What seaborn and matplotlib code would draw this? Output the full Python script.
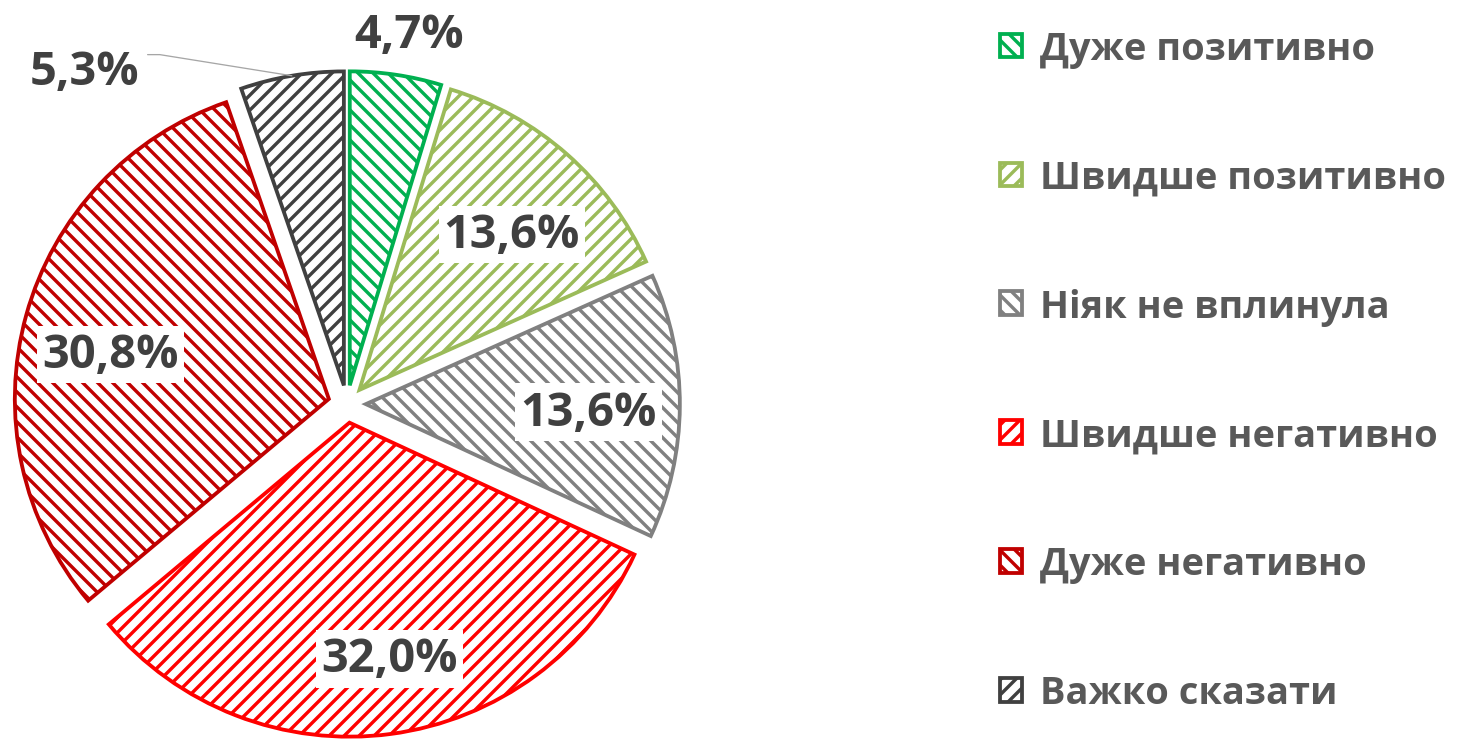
import matplotlib.pyplot as plt
import numpy as np
import seaborn as sns

categories = ["Дуже позитивно", "Швидше позитивно", "Ніяк не вплинула",
              "Швидше негативно", "Дуже негативно", "Важко сказати"]
shares = [4.7, 13.6, 13.6, 32.0, 30.8, 5.3]
labels = ["4,7%", "13,6%", "13,6%", "32,0%", "30,8%", "5,3%"]

colors = ["#00B050", "#9BBB59", "#808080", "#FF0000", "#C00000", "#404040"]
hatches = ["\\\\", "//", "\\\\", "//", "\\\\", "//"]
# radial position of each label (fraction of radius) and angle shift in degrees
label_r = [1.134, 0.694, 0.71, 0.763, 0.71, 1.296]
label_shift = [-1.2, -3.0, -1.7, 2.1, 3.9, 30.0]

sns.set_theme(style="white")
plt.rcParams["font.family"] = ["Open Sans", "DejaVu Sans"]

DPI = 90
PX = 72 / DPI  # points per pixel
plt.rcParams["hatch.linewidth"] = 3.4 * PX

fig = plt.figure(figsize=(1460 / DPI, 740 / DPI), dpi=DPI)
ax = fig.add_axes([0, 0, 1, 1])

R = 314.0  # pie radius in pixels
cx, cy = 347.0, 335.0  # pie centre, pixels from bottom-left

wedges, _ = ax.pie(shares, colors=["white"] * len(shares), startangle=90,
                   counterclock=False, explode=[0.06] * len(shares),
                   wedgeprops=dict(linewidth=3.8 * PX))
for w, c, h in zip(wedges, colors, hatches):
    w.set_edgecolor(c)
    w.set_hatch(h)

ax.set_xlim(-cx / R, (1460 - cx) / R)
ax.set_ylim(-cy / R, (740 - cy) / R)
ax.set_aspect("equal")
ax.axis("off")

for i, w in enumerate(wedges):
    mid = np.deg2rad((w.theta1 + w.theta2) / 2 + label_shift[i])
    x0, y0 = w.center
    lx = x0 + label_r[i] * np.cos(mid)
    ly = y0 + label_r[i] * np.sin(mid)
    inside = label_r[i] < 1
    ax.text(lx, ly, labels[i], ha="center", va="center", fontsize=47 * PX,
            fontweight="bold", color="#404040",
            bbox=dict(facecolor="white", edgecolor="none", pad=5 * PX) if inside else None)
    if i == len(wedges) - 1:
        amid = np.deg2rad((w.theta1 + w.theta2) / 2)
        ax.plot([x0 + np.cos(amid), lx + 0.239, lx + 0.2],
                [y0 + np.sin(amid), ly + 0.054, ly + 0.054],
                color="#A6A6A6", linewidth=1.3 * PX)

leg = ax.legend(wedges, categories, loc="upper left",
                bbox_to_anchor=(1000 / 1460, 1 - 31 / 740),
                bbox_transform=fig.transFigure, frameon=False,
                prop=dict(family=["Open Sans", "DejaVu Sans"], weight="bold", size=38 * PX),
                labelcolor="#595959", labelspacing=2.39, borderpad=0, borderaxespad=0,
                handlelength=0.58, handleheight=0.58, handletextpad=0.47)

fig.savefig("out.png", dpi=DPI, facecolor="white")
